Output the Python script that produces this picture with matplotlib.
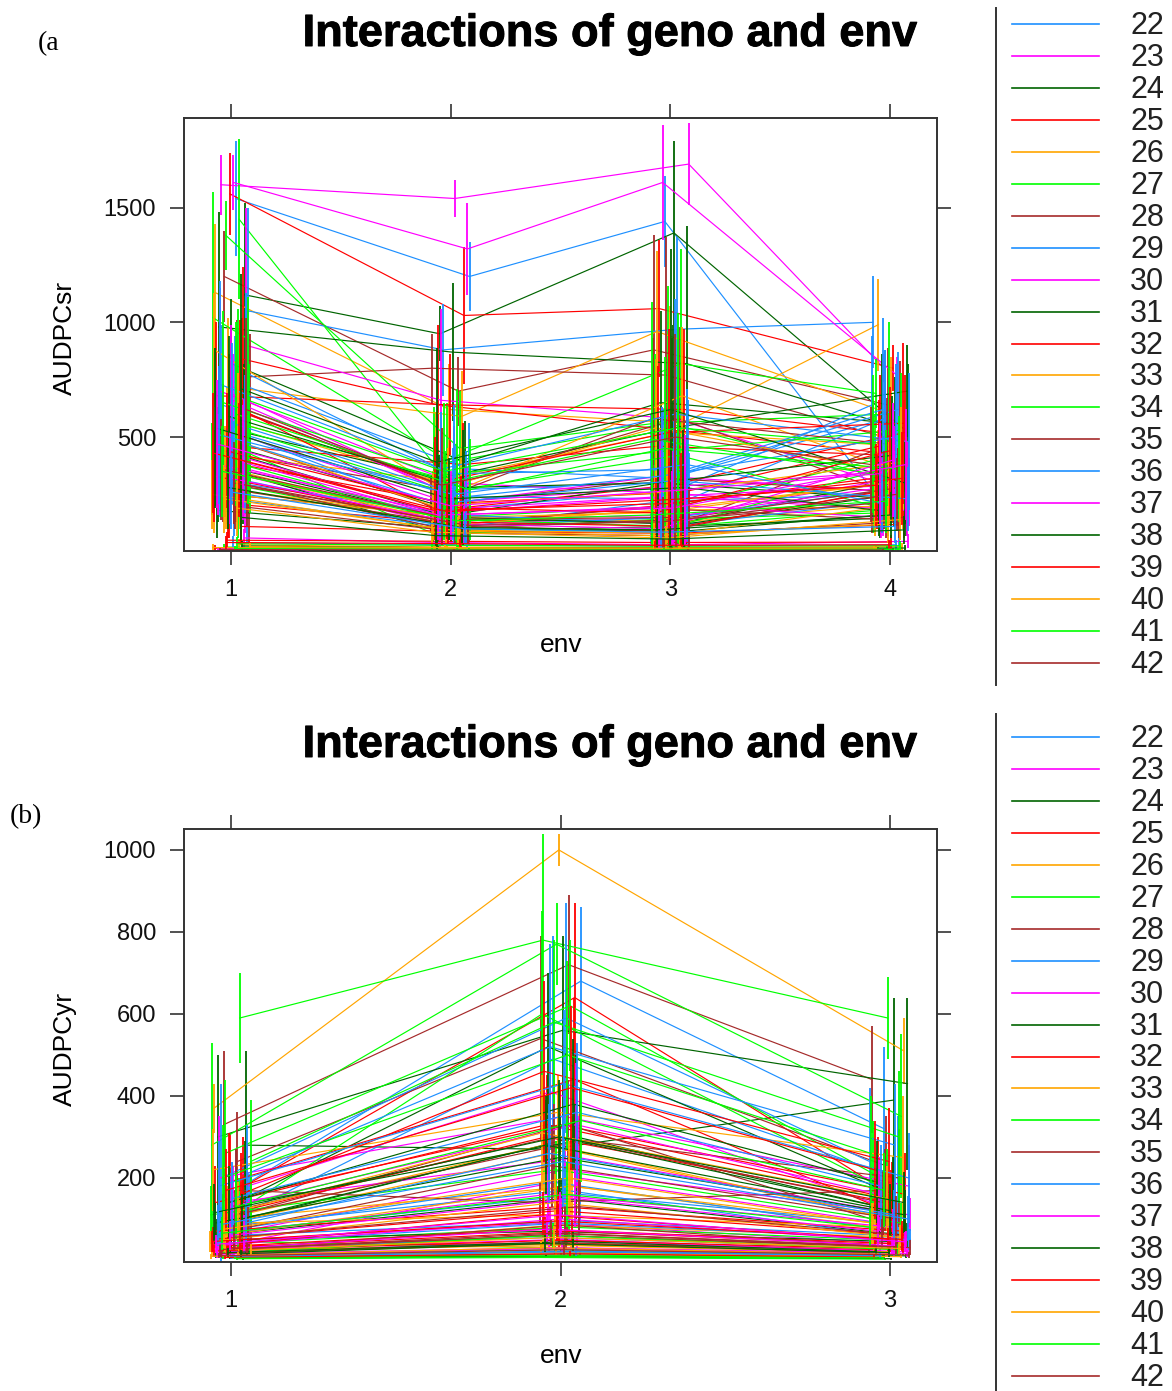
import matplotlib
matplotlib.use("Agg")
import matplotlib.pyplot as plt
import matplotlib.patheffects as pe
from matplotlib.lines import Line2D
import numpy as np

W, H = 1172, 1391
plt.rcParams['font.family'] = ['Liberation Sans', 'DejaVu Sans']

# genotypes 1..112, colours recycle every 7
geno = list(range(1, 113))
palette = ['#1E90FF', '#FF00FF', '#006400', '#FF0000', '#FFA500', '#00FF00', '#A52A2A']
legend_geno = list(range(22, 43))

# ---- (a) AUDPCsr, 4 environments: means and half-width of bars
sr_env1 = [1540, 1600, 1120, 1560, 1130, 1450, 1200, 1050, 1610, 980,
           840, 720, 1020, 760, 640, 900, 820, 680, 560, 1380,
           600, 740, 700, 520, 460, 880, 560, 430, 500, 660,
           380, 620, 420, 360, 480, 540, 330, 460, 400, 350,
           300, 240, 320, 390, 340, 210, 280, 450, 300, 220,
           520, 180, 110, 250, 370, 200, 310, 60, 10, 15,
           30, 20, 8, 40, 12, 25, 50, 18, 35, 5,
           780, 690, 450, 610, 350, 520, 270, 730, 410, 590,
           330, 480, 650, 290, 560, 380, 710, 440, 250, 600,
           360, 470, 320, 540, 400, 230, 660, 300, 510, 390,
           280, 430, 190, 350, 620, 260, 470, 150, 40, 22, 14, 9]
sr_env2 = [1200, 1540, 950, 1030, 620, 380, 700, 880, 1320, 870,
           640, 590, 400, 800, 270, 660, 390, 640, 310, 450,
           280, 360, 300, 320, 380, 250, 330, 260, 180, 220,
           140, 180, 300, 150, 200, 240, 120, 170, 210, 130,
           100, 160, 110, 140, 90, 120, 150, 80, 130, 110,
           190, 100, 90, 150, 140, 80, 160, 40, 10, 12,
           20, 15, 6, 30, 10, 18, 45, 14, 28, 4,
           360, 220, 150, 300, 120, 260, 110, 340, 170, 280,
           130, 200, 310, 100, 240, 160, 390, 190, 95, 270,
           140, 210, 120, 230, 180, 90, 350, 115, 250, 160,
           105, 175, 85, 135, 290, 100, 200, 70, 35, 18, 10, 7]
sr_env3 = [1440, 1690, 1390, 1060, 560, 560, 880, 970, 1610, 820,
           530, 960, 820, 770, 300, 580, 650, 620, 520, 560,
           580, 320, 250, 540, 460, 680, 440, 580, 270, 330,
           130, 290, 540, 200, 320, 230, 150, 300, 260, 180,
           140, 120, 220, 160, 110, 200, 130, 100, 190, 150,
           240, 90, 80, 170, 110, 70, 120, 30, 8, 10,
           18, 12, 5, 25, 9, 15, 40, 12, 24, 3,
           600, 280, 120, 520, 180, 420, 90, 360, 240, 300,
           110, 260, 490, 140, 330, 200, 620, 170, 80, 450,
           150, 310, 100, 280, 210, 70, 540, 130, 380, 190,
           95, 230, 60, 160, 500, 85, 270, 55, 28, 15, 9, 6]
sr_env4 = [120, 800, 520, 800, 990, 300, 640, 1000, 770, 560,
           420, 600, 690, 480, 580, 260, 560, 520, 460, 600,
           280, 620, 190, 700, 420, 380, 530, 470, 640, 260,
           300, 520, 350, 400, 260, 580, 330, 230, 460, 200,
           170, 440, 250, 280, 150, 330, 200, 380, 140, 260,
           290, 160, 120, 300, 180, 130, 220, 45, 8, 12,
           22, 14, 6, 30, 10, 16, 42, 15, 26, 4,
           480, 350, 240, 560, 300, 200, 280, 620, 180, 420,
           260, 390, 330, 210, 500, 150, 300, 440, 190, 360,
           270, 230, 400, 180, 320, 120, 470, 250, 210, 380,
           160, 290, 140, 220, 380, 110, 340, 95, 30, 16, 11, 7]
sr_err1 = [250, 130, 400, 180, 300, 350, 200, 450, 120, 500,
           400, 300, 550, 250, 350, 600, 280, 320, 450, 150,
           350, 200, 450, 300, 400, 250, 500, 300, 350, 200,
           250, 400, 300, 200, 350, 150, 250, 300, 200, 250,
           150, 200, 250, 180, 220, 150, 200, 250, 120, 180,
           300, 120, 80, 150, 200, 100, 160, 40, 10, 12,
           25, 15, 8, 30, 10, 20, 35, 14, 28, 5,
           350, 300, 250, 400, 200, 300, 150, 450, 250, 350,
           200, 300, 400, 180, 350, 220, 500, 250, 150, 400,
           220, 300, 200, 350, 250, 150, 450, 180, 300, 250,
           180, 260, 120, 200, 400, 160, 280, 100, 30, 15, 10, 6]
sr_err2 = [150, 80, 120, 300, 200, 250, 150, 200, 200, 300,
           350, 200, 250, 150, 200, 400, 180, 220, 300, 250,
           150, 200, 250, 100, 180, 200, 150, 120, 100, 150,
           80, 100, 150, 90, 120, 140, 70, 100, 110, 80,
           60, 90, 70, 80, 50, 70, 90, 50, 80, 60,
           120, 60, 50, 90, 80, 50, 100, 25, 8, 10,
           15, 10, 5, 20, 8, 12, 30, 10, 20, 3,
           250, 150, 100, 200, 80, 180, 70, 300, 120, 250,
           90, 150, 400, 70, 200, 110, 500, 140, 60, 220,
           100, 150, 80, 180, 130, 60, 300, 80, 200, 110,
           70, 120, 50, 90, 250, 70, 150, 45, 20, 10, 6, 4]
sr_err3 = [200, 180, 400, 300, 350, 600, 500, 400, 250, 600,
           400, 350, 500, 600, 300, 450, 400, 350, 550, 300,
           400, 300, 200, 450, 350, 300, 400, 350, 250, 300,
           100, 250, 300, 150, 250, 200, 120, 200, 200, 150,
           100, 100, 150, 120, 80, 150, 100, 80, 150, 100,
           200, 70, 60, 130, 90, 50, 100, 25, 6, 8,
           14, 10, 4, 20, 7, 12, 30, 10, 18, 3,
           500, 250, 100, 450, 150, 350, 80, 300, 200, 280,
           90, 220, 600, 120, 300, 170, 700, 150, 70, 400,
           130, 260, 90, 250, 180, 60, 500, 110, 330, 160,
           80, 200, 50, 140, 450, 70, 240, 45, 20, 10, 6, 4]
sr_err4 = [100, 60, 300, 100, 200, 150, 250, 200, 80, 300,
           200, 250, 150, 350, 300, 150, 200, 250, 200, 400,
           150, 250, 120, 200, 200, 150, 250, 200, 300, 150,
           200, 250, 150, 200, 150, 300, 150, 120, 200, 100,
           100, 200, 120, 150, 80, 200, 100, 150, 80, 120,
           150, 100, 60, 150, 90, 70, 120, 30, 6, 10,
           16, 10, 5, 22, 8, 12, 30, 12, 20, 3,
           300, 200, 150, 350, 180, 120, 170, 400, 110, 260,
           160, 240, 200, 130, 320, 90, 180, 280, 120, 230,
           170, 140, 250, 110, 200, 80, 300, 160, 130, 240,
           100, 180, 90, 140, 250, 70, 220, 60, 20, 10, 7, 4]

# ---- (b) AUDPCyr, 3 environments
yr_env1 = [170, 60, 280, 160, 370, 590, 330, 120, 40, 300,
           150, 100, 280, 240, 200, 180, 90, 140, 110, 260,
           130, 70, 200, 150, 190, 220, 120, 100, 80, 140,
           60, 120, 90, 110, 170, 80, 50, 130, 70, 90,
           40, 30, 60, 25, 50, 35, 20, 45, 15, 30,
           20, 10, 35, 25, 15, 8, 40, 12, 5, 22,
           18, 6, 28, 10, 14, 4, 30, 9, 3, 16,
           210, 130, 90, 160, 60, 240, 110, 180, 70, 140,
           50, 120, 200, 80, 150, 35, 100, 170, 45, 130,
           25, 90, 60, 115, 40, 75, 20, 55, 85, 30,
           18, 45, 12, 65, 28, 8, 38, 15, 6, 24, 4, 10]
yr_env2 = [680, 220, 270, 640, 1000, 780, 720, 490, 200, 560,
           330, 180, 770, 540, 590, 410, 300, 330, 280, 620,
           300, 160, 350, 520, 440, 360, 600, 330, 190, 250,
           150, 300, 270, 220, 140, 170, 90, 290, 130, 110,
           80, 60, 95, 50, 70, 40, 85, 30, 65, 55,
           45, 20, 75, 35, 25, 15, 90, 28, 10, 48,
           38, 12, 60, 22, 30, 8, 70, 18, 6, 42,
           520, 330, 250, 460, 180, 580, 290, 430, 160, 380,
           120, 310, 500, 230, 360, 100, 280, 420, 140, 340,
           85, 260, 150, 300, 110, 200, 60, 130, 240, 75,
           45, 95, 30, 160, 65, 20, 110, 40, 15, 55, 8, 25]
yr_env3 = [320, 110, 390, 180, 510, 590, 440, 200, 90, 430,
           150, 80, 350, 230, 240, 120, 130, 160, 100, 210,
           200, 90, 180, 160, 130, 250, 170, 100, 70, 120,
           60, 140, 110, 90, 170, 50, 40, 130, 70, 80,
           50, 30, 60, 20, 45, 25, 55, 15, 35, 28,
           22, 10, 40, 18, 12, 6, 50, 14, 4, 26,
           20, 5, 32, 10, 16, 3, 38, 8, 2, 18,
           280, 160, 110, 240, 90, 300, 140, 200, 80, 190,
           60, 150, 260, 100, 180, 45, 120, 220, 55, 170,
           30, 110, 70, 140, 50, 90, 25, 65, 100, 35,
           20, 50, 14, 80, 32, 10, 44, 18, 7, 28, 5, 12]
yr_err1 = [100, 40, 230, 150, 60, 110, 180, 90, 30, 200,
           150, 80, 250, 120, 230, 100, 70, 90, 80, 180,
           110, 50, 150, 140, 120, 100, 80, 60, 50, 90,
           40, 80, 60, 70, 100, 50, 30, 80, 40, 60,
           25, 20, 40, 18, 30, 20, 12, 30, 10, 20,
           12, 6, 20, 15, 10, 5, 25, 8, 3, 14,
           10, 4, 18, 6, 9, 3, 20, 6, 2, 10,
           120, 80, 50, 100, 40, 150, 60, 110, 40, 90,
           30, 70, 130, 50, 90, 20, 60, 100, 25, 80,
           15, 50, 35, 70, 25, 45, 12, 30, 50, 18,
           10, 25, 7, 40, 15, 5, 22, 9, 3, 14, 2, 6]
yr_err2 = [180, 60, 110, 230, 40, 260, 170, 300, 50, 230,
           120, 80, 100, 250, 280, 130, 200, 100, 120, 160,
           150, 70, 120, 180, 200, 90, 250, 110, 60, 100,
           50, 90, 80, 70, 50, 60, 40, 90, 50, 40,
           30, 25, 40, 20, 30, 15, 35, 12, 25, 20,
           18, 8, 30, 14, 10, 6, 35, 10, 4, 18,
           14, 5, 24, 8, 12, 3, 28, 7, 2, 16,
           250, 150, 100, 220, 80, 200, 130, 180, 70, 160,
           60, 140, 230, 100, 170, 50, 120, 200, 70, 150,
           45, 120, 70, 140, 55, 90, 30, 65, 110, 38,
           22, 48, 15, 80, 32, 10, 55, 20, 8, 28, 4, 12]
yr_err3 = [200, 40, 250, 120, 80, 100, 130, 150, 40, 210,
           90, 40, 200, 120, 180, 70, 80, 100, 60, 130,
           120, 40, 100, 90, 80, 150, 100, 60, 40, 70,
           30, 80, 60, 50, 100, 25, 20, 70, 35, 40,
           25, 15, 30, 10, 22, 12, 28, 8, 18, 14,
           11, 5, 20, 9, 6, 3, 25, 7, 2, 13,
           10, 3, 16, 5, 8, 2, 19, 4, 1, 9,
           150, 90, 60, 130, 50, 160, 80, 110, 45, 100,
           35, 80, 140, 55, 100, 25, 65, 120, 30, 90,
           18, 60, 40, 75, 28, 50, 14, 35, 55, 20,
           11, 28, 8, 45, 18, 6, 25, 10, 4, 16, 3, 7]


def fx(x):
    return x / W


def fy(y):
    return 1 - y / H


fig = plt.figure(figsize=(W / 100, H / 100), dpi=100)


def panel(top, means, errs, yticks, ylim, jit, ylab):
    ax = fig.add_axes([fx(184), fy(top + 433), fx(937) - fx(184), fy(top) - fy(top + 433)])
    n = len(means)
    envs = np.arange(1, n + 1)
    for i, g in enumerate(geno):
        col = palette[(g - 1) % 7]
        u = np.array([(g * 0.6180339887 + e * 0.37) % 1.0 for e in range(n)])
        xs = envs + jit * (2 * u - 1)
        ys = np.array([m[i] for m in means], dtype=float)
        er = np.array([s[i] for s in errs], dtype=float)
        ax.plot(xs, ys, color=col, lw=0.85)
        ax.vlines(xs, ys - er, ys + er, color=col, lw=1.3)
    span = (n - 1) / (1 - 2 * 47 / 753)
    pad = (span - (n - 1)) / 2
    ax.set_xlim(1 - pad, n + pad)
    ax.set_ylim(*ylim)
    ax.set_xticks(envs)
    ax.set_xticklabels([str(e) for e in envs])
    ax.set_yticks(yticks)
    ax.tick_params(direction='out', length=10, width=1.2, color='#333333',
                   top=True, right=True, labelsize=17, pad=10, labelcolor='#111111')
    for s in ax.spines.values():
        s.set_linewidth(1.4)
        s.set_color('#333333')
    fig.text(fx(65), fy(top + 220), ylab, rotation=90, ha='center', va='center', fontsize=19)
    fig.text(fx(561), fy(top + 527), 'env', ha='center', va='center', fontsize=19)
    fig.text(fx(609), fy(top - 72), 'Interactions of geno and env', ha='center',
             va='baseline', fontsize=32.5, fontweight='bold',
             path_effects=[pe.withStroke(linewidth=0.7, foreground='black')])
    return ax


def legend(y0, y_top, y_bot):
    fig.add_artist(Line2D([fx(996), fx(996)], [fy(y_top), fy(y_bot)], color='#333333', lw=1.4))
    for k, g in enumerate(legend_geno):
        y = y0 + 31.95 * k
        fig.add_artist(Line2D([fx(1012), fx(1099)], [fy(y), fy(y)],
                              color=palette[(g - 1) % 7], lw=1.2))
        fig.text(fx(1130), fy(y + 2), str(g), ha='left', va='center', fontsize=22, color='#222222')


panel(118, [sr_env1, sr_env2, sr_env3, sr_env4], [sr_err1, sr_err2, sr_err3, sr_err4],
      [500, 1000, 1500], (3, 1891), 0.088, 'AUDPCsr')
panel(829, [yr_env1, yr_env2, yr_env3], [yr_err1, yr_err2, yr_err3],
      [200, 400, 600, 800, 1000], (-5, 1051), 0.063, 'AUDPCyr')

legend(24, 8, 685)
legend(737, 714, 1391)

fig.text(fx(38), fy(50), '(a', fontsize=20, family=['Liberation Serif', 'DejaVu Serif'],
         ha='left', va='baseline')
fig.text(fx(10), fy(823), '(b)', fontsize=20, family=['Liberation Serif', 'DejaVu Serif'],
         ha='left', va='baseline')

fig.savefig('out.png', dpi=100)
